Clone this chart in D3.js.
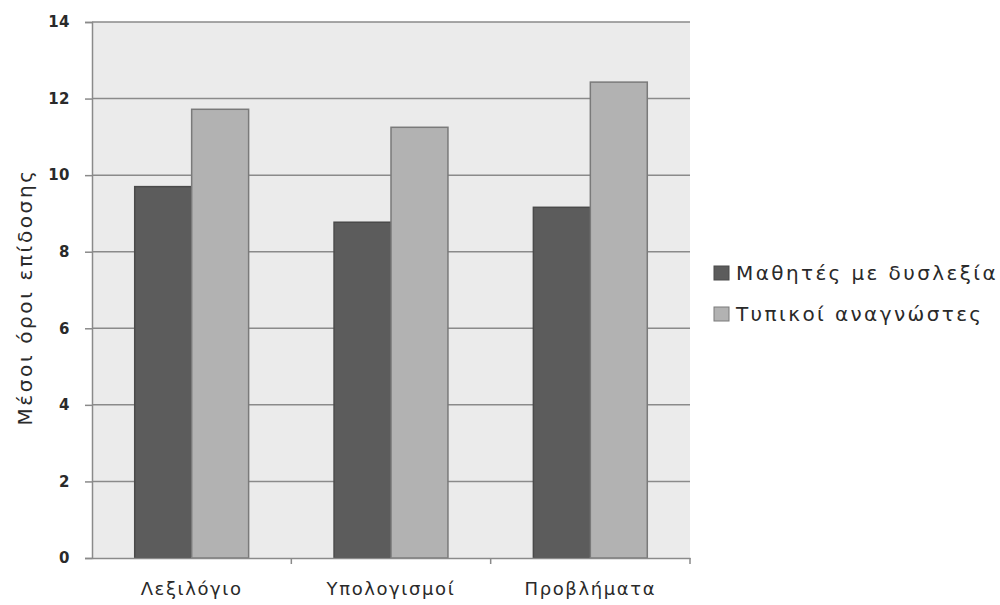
<!DOCTYPE html>
<html>
<head>
<meta charset="utf-8">
<script src="https://cdn.jsdelivr.net/npm/d3@7"></script>
<style>
  body { margin: 0; background: #fff; }
  svg { display: block; font-family: "DejaVu Sans", "Open Sans", sans-serif; }
</style>
</head>
<body>
<div id="chart"></div>
<script>
// categories and series
var categories = ["Λεξιλόγιο", "Υπολογισμοί", "Προβλήματα"];
var seriesNames = ["Μαθητές με δυσλεξία", "Τυπικοί αναγνώστες"];
var dyslexia = [9.7, 8.77, 9.16];
var typical = [11.72, 11.25, 12.43];
var yTicks = [0, 2, 4, 6, 8, 10, 12, 14];

var width = 1000, height = 605;
var margin = {top: 22, right: 310, bottom: 47, left: 92};
var colors = ["#5c5c5c", "#b2b2b2"];
var strokes = ["#4a4a4a", "#7a7a7a"];

var svg = d3.select("#chart").append("svg")
    .attr("width", width)
    .attr("height", height);

var x = d3.scaleBand()
    .domain(categories)
    .range([margin.left, width - margin.right]);

// Excel style gap: 150% of a bar width
var x1 = d3.scaleBand()
    .domain(seriesNames)
    .range([0, x.bandwidth()])
    .paddingOuter(0.75)
    .paddingInner(0);

var y = d3.scaleLinear()
    .domain([0, 14])
    .range([height - margin.bottom, margin.top]);

// plot background
svg.append("rect")
    .attr("x", margin.left)
    .attr("y", margin.top)
    .attr("width", width - margin.right - margin.left)
    .attr("height", height - margin.bottom - margin.top)
    .attr("fill", "#ebebeb");

// y axis with gridlines
var yAxis = svg.append("g")
    .attr("transform", `translate(${margin.left},0)`)
    .call(d3.axisLeft(y).tickValues(yTicks).tickSize(7).tickPadding(15));
yAxis.attr("font-family", null);
yAxis.select(".domain").attr("stroke", "#8a8a8a").attr("stroke-width", 1.5);
yAxis.selectAll(".tick line").attr("stroke", "#8a8a8a").attr("stroke-width", 1.5);
yAxis.selectAll(".tick text")
    .attr("fill", "#2a2a2a")
    .style("font-size", "15px")
    .style("font-weight", "700")
    .style("letter-spacing", "0.5px");

svg.append("g")
    .selectAll("line")
    .data(yTicks.filter(d => d > 0))
    .join("line")
    .attr("x1", margin.left)
    .attr("x2", width - margin.right)
    .attr("y1", d => y(d))
    .attr("y2", d => y(d))
    .attr("stroke", "#8a8a8a")
    .attr("stroke-width", 1.5);

// bars
var data = categories.map((c, i) => ({cat: c, vals: [dyslexia[i], typical[i]]}));
var groups = svg.append("g")
    .selectAll("g")
    .data(data)
    .join("g")
    .attr("transform", d => `translate(${x(d.cat)},0)`);

groups.selectAll("rect")
    .data(d => d.vals.map((v, j) => ({s: seriesNames[j], v: v, j: j})))
    .join("rect")
    .attr("x", d => x1(d.s))
    .attr("width", x1.bandwidth())
    .attr("y", d => y(d.v))
    .attr("height", d => y(0) - y(d.v))
    .attr("fill", d => colors[d.j])
    .attr("stroke", d => strokes[d.j])
    .attr("stroke-width", 1.5);

// x axis
var xAxis = svg.append("g")
    .attr("transform", `translate(0,${y(0)})`)
    .call(d3.axisBottom(x).tickSize(0).tickPadding(24));
xAxis.attr("font-family", null);
xAxis.select(".domain").attr("stroke", "#8a8a8a").attr("stroke-width", 1.5);
xAxis.selectAll(".tick text")
    .attr("fill", "#2a2a2a")
    .style("font-size", "18px")
    .style("letter-spacing", "1.6px");

// category separator ticks
svg.append("g")
    .selectAll("line")
    .data(categories)
    .join("line")
    .attr("x1", d => x(d) + x.bandwidth())
    .attr("x2", d => x(d) + x.bandwidth())
    .attr("y1", y(0))
    .attr("y2", y(0) + 6)
    .attr("stroke", "#8a8a8a")
    .attr("stroke-width", 1.5);

// y label
svg.append("text")
    .attr("transform", `translate(25,297) rotate(-90)`)
    .attr("text-anchor", "middle")
    .attr("dominant-baseline", "central")
    .attr("fill", "#2a2a2a")
    .style("font-size", "20px")
    .style("letter-spacing", "2.6px")
    .text("Μέσοι όροι επίδοσης");

// legend
var legend = svg.append("g")
    .selectAll("g")
    .data(seriesNames)
    .join("g")
    .attr("transform", (d, i) => `translate(714,${273 + i * 41})`);

legend.append("rect")
    .attr("x", 0)
    .attr("y", -7)
    .attr("width", 15)
    .attr("height", 14)
    .attr("fill", (d, i) => colors[i])
    .attr("stroke", (d, i) => strokes[i]);

legend.append("text")
    .attr("x", 22)
    .attr("y", 0)
    .attr("dominant-baseline", "central")
    .attr("fill", "#2a2a2a")
    .style("font-size", "20px")
    .style("letter-spacing", "2.4px")
    .text(d => d);
</script>
</body>
</html>
